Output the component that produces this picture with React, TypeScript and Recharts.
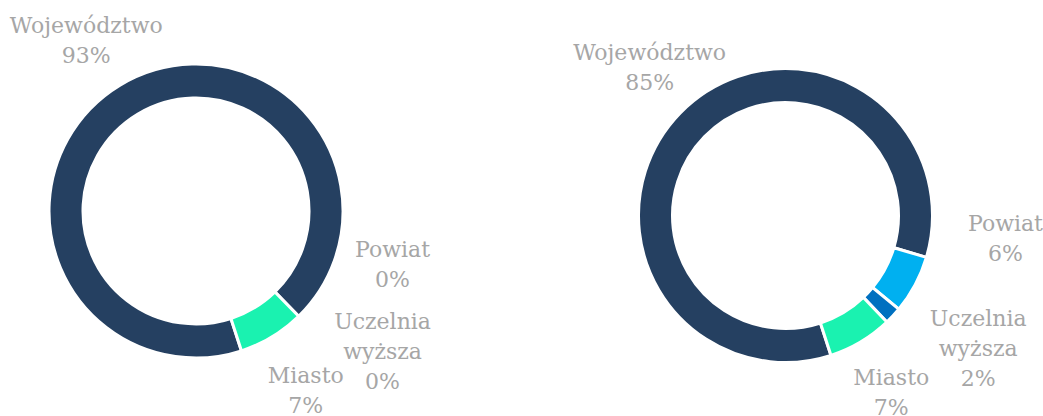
import { PieChart, Pie, Cell } from 'recharts';

const CATEGORIES = ['Województwo', 'Powiat', 'Uczelnia wyższa', 'Miasto'];
const LEFT_VALUES = [92.7, 0, 0, 7.3];
const RIGHT_VALUES = [84.6, 6.4, 1.9, 7.1];

const COLORS: Record<string, string> = {
  'Województwo': '#254061',
  'Powiat': '#00B0F0',
  'Uczelnia wyższa': '#0070C0',
  'Miasto': '#1AF2B0',
};

// label nudges relative to the point at outerRadius + 40 on the slice's mid angle
const LEFT_NUDGE: Record<string, [number, number]> = {
  'Województwo': [-13, -11],
  'Powiat': [66, -81],
  'Uczelnia wyższa': [56, 6],
  'Miasto': [13, 19],
};
const RIGHT_NUDGE: Record<string, [number, number]> = {
  'Województwo': [-2, -18],
  'Powiat': [55, -66],
  'Uczelnia wyższa': [56, 5],
  'Miasto': [10, 16],
};

const RAD = Math.PI / 180;
const LINE = 30;
const FONT = 'DejaVu Serif';

const toRows = (values: number[]) => CATEGORIES.map((name, i) => ({ name, value: values[i] }));

function makeLabel(nudge: Record<string, [number, number]>) {
  return (props: any) => {
    const { cx, cy, midAngle, outerRadius, name, percent } = props;
    const r = outerRadius + 40;
    const [dx, dy] = nudge[name] || [0, 0];
    const x = cx + r * Math.cos(-midAngle * RAD) + dx;
    const y = cy + r * Math.sin(-midAngle * RAD) + dy;
    const lines = [...String(name).split(' '), `${Math.round(percent * 100)}%`];
    return (
      <text x={x} y={y} textAnchor="middle" fill="#A6A6A6" fontFamily={FONT} fontSize={22}>
        {lines.map((l, i) => (
          <tspan key={i} x={x} y={y + (i - (lines.length - 1) / 2) * LINE + 8}>
            {l}
          </tspan>
        ))}
      </text>
    );
  };
}

export default function App() {
  const left = toRows(LEFT_VALUES);
  const right = toRows(RIGHT_VALUES);
  return (
    <div style={{ position: 'absolute', left: 0, top: 0, background: '#fff' }}>
      <PieChart width={1043} height={416} margin={{ top: 0, right: 0, bottom: 0, left: 0 }}>
        <Pie
          data={left}
          dataKey="value"
          nameKey="name"
          cx={196}
          cy={211}
          innerRadius={113}
          outerRadius={147}
          startAngle={-72}
          endAngle={-432}
          stroke="#fff"
          strokeWidth={3}
          labelLine={false}
          label={makeLabel(LEFT_NUDGE)}
          isAnimationActive={false}
        >
          {left.map((d) => (
            <Cell key={d.name} fill={COLORS[d.name]} />
          ))}
        </Pie>
        <Pie
          data={right}
          dataKey="value"
          nameKey="name"
          cx={785.5}
          cy={215.5}
          innerRadius={113}
          outerRadius={147}
          startAngle={-72}
          endAngle={-432}
          stroke="#fff"
          strokeWidth={3}
          labelLine={false}
          label={makeLabel(RIGHT_NUDGE)}
          isAnimationActive={false}
        >
          {right.map((d) => (
            <Cell key={d.name} fill={COLORS[d.name]} />
          ))}
        </Pie>
      </PieChart>
    </div>
  );
}
